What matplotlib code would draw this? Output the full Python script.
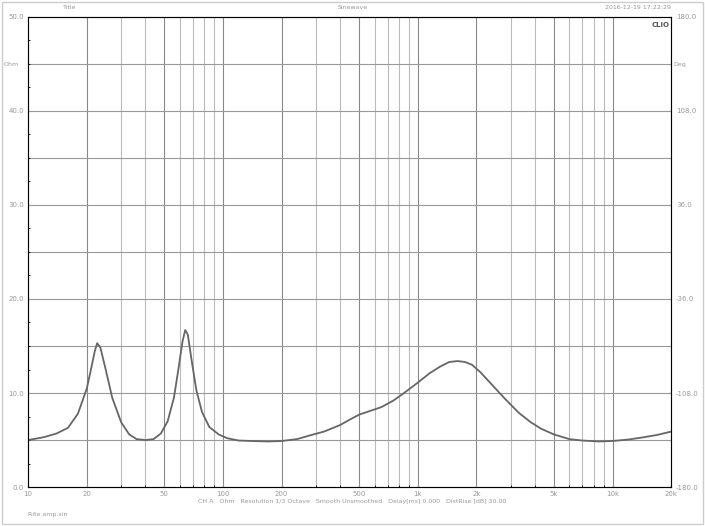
import numpy as np
import matplotlib.pyplot as plt

# impedance curve (Hz, Ohm)
freq = [10, 12, 14, 16, 18, 20, 21, 22, 22.6, 23.5, 25, 27, 30, 33, 36, 40, 44, 48, 52, 56,
        59, 62, 64, 66, 69, 73, 78, 85, 95, 105, 120, 140, 170, 200, 240, 280, 330,
        400, 450, 500, 570, 650, 750, 850, 1000, 1150, 1300, 1450, 1600, 1750, 1900,
        2100, 2400, 2800, 3300, 3800, 4300, 5000, 6000, 7000, 8500, 10000, 12000,
        14000, 17000, 20000]
ohm = [5.0, 5.3, 5.7, 6.3, 7.8, 10.5, 12.5, 14.5, 15.3, 14.8, 12.5, 9.5, 6.9, 5.6, 5.1, 5.0,
       5.1, 5.7, 7.0, 9.5, 12.5, 15.5, 16.7, 16.2, 13.5, 10.3, 8.0, 6.4, 5.6, 5.2, 4.95, 4.9,
       4.85, 4.9, 5.1, 5.5, 5.9, 6.6, 7.2, 7.7, 8.1, 8.5, 9.2, 10.0, 11.1, 12.1, 12.8,
       13.3, 13.4, 13.3, 13.0, 12.2, 10.9, 9.4, 7.9, 6.9, 6.2, 5.6, 5.1, 4.95, 4.85,
       4.9, 5.05, 5.25, 5.55, 5.9]

fig = plt.figure(figsize=(7.05, 5.26), dpi=100)
fig.patches.append(plt.Rectangle((0.003, 0.004), 0.994, 0.992, transform=fig.transFigure,
                                 fill=False, ec="#cccccc", lw=1))
ax = fig.add_axes([0.040, 0.074, 0.912, 0.894])
ax.set_xscale("log")
ax.set_xlim(10, 20000)
ax.set_ylim(0, 50)

# vertical grid: every 1..9 multiple
for dec in [10, 100, 1000, 10000]:
    for m in range(1, 10):
        f = dec * m
        if 10 < f < 20000:
            ax.axvline(f, color="#888888" if m in (1, 2, 5) else "#bbbbbb", lw=0.8, zorder=0)
for yv in np.arange(5, 50, 5):
    ax.axhline(yv, color="#999999", lw=0.8, zorder=0)

ax.plot(freq, ohm, color="#666666", lw=1.3)

ax.set_yticks([0, 10, 20, 30, 40, 50])
ax.set_yticklabels(["0.0", "10.0", "20.0", "30.0", "40.0", "50.0"])
ax.set_yticks(np.arange(0, 51, 2.5), minor=True)
xt = [10, 20, 50, 100, 200, 500, 1000, 2000, 5000, 10000, 20000]
ax.set_xticks(xt)
ax.set_xticklabels(["10", "20", "50", "100", "200", "500", "1k", "2k", "5k", "10k", "20k"])
ax.xaxis.set_minor_formatter(plt.NullFormatter())
ax.tick_params(labelsize=5, colors="#999999", length=2, direction="in", pad=3)
ax.tick_params(which="minor", length=1.5, direction="in")
for s in ax.spines.values():
    s.set_color("#777777")

ax2 = ax.twinx()
ax2.set_ylim(-180, 180)
ax2.set_yticks(np.linspace(-180, 180, 6))
ax2.set_yticklabels([f"{v:.1f}" for v in np.linspace(-180, 180, 6)])
ax2.tick_params(labelsize=5, colors="#999999", length=2, direction="in")

fig.text(0.09, 0.985, "Title", fontsize=4.5, color="#999999", va="center")
fig.text(0.5, 0.985, "Sinewave", fontsize=4.5, color="#999999", ha="center", va="center")
fig.text(0.952, 0.985, "2016-12-19 17:22:29", fontsize=4.5, color="#999999", ha="right", va="center")
ax.text(0.998, 0.99, "CLIO", transform=ax.transAxes, fontsize=5, color="#555555",
        ha="right", va="top", fontweight="bold")
fig.text(0.005, 0.878, "Ohm", fontsize=4.5, color="#999999", va="center")
fig.text(0.955, 0.878, "Deg", fontsize=4.5, color="#999999", va="center")
fig.text(0.5, 0.046, "CH A   Ohm   Resolution 1/3 Octave   Smooth Unsmoothed   Delay[ms] 0.000   DistRise [dB] 30.00",
         fontsize=4.5, color="#999999", ha="center", va="center")
fig.text(0.04, 0.022, "Rite amp.sin", fontsize=4.5, color="#999999", va="center")

fig.savefig("out.png", dpi=100)
